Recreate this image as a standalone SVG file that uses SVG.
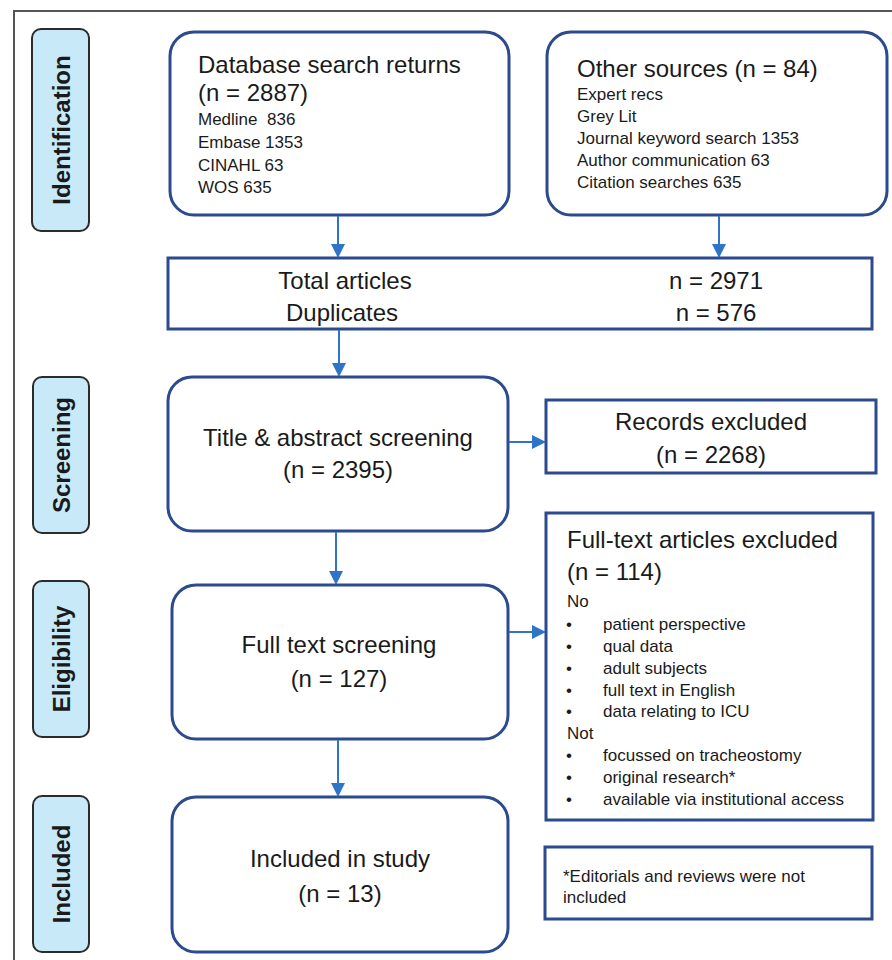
<svg xmlns="http://www.w3.org/2000/svg" width="892" height="960" viewBox="0 0 892 960">
<style>
text{font-family:"Liberation Sans",Arial,sans-serif;fill:#1a1a1a}
.big{font-size:24px}
.sm{font-size:17px}
.lab{font-size:24px;font-weight:bold}
.box{fill:#fff;stroke:#2c4a8e;stroke-width:3}
.side{fill:#c7e9f8;stroke:#2b2b2b;stroke-width:2}
.conn{stroke:#2f74c8;stroke-width:2;fill:none;marker-end:url(#ah)}
</style>
<defs>
<marker id="ah" markerWidth="14" markerHeight="14" refX="13" refY="7" orient="auto" markerUnits="userSpaceOnUse">
<path d="M0,0 L14,7 L0,14 Z" fill="#2f74c8"/>
</marker>
</defs>
<rect x="0" y="0" width="892" height="960" fill="#fff"/>
<path d="M14,960 V11 H892" fill="none" stroke="#555" stroke-width="2"/>

<g id="label-identification"><rect class="side" x="32" y="29" width="57" height="202" rx="9"/><text class="lab" transform="translate(70,130) rotate(-90)" text-anchor="middle">Identification</text></g>
<g id="label-screening"><rect class="side" x="33" y="377" width="56" height="156" rx="9"/><text class="lab" transform="translate(70,455) rotate(-90)" text-anchor="middle">Screening</text></g>
<g id="label-eligibility"><rect class="side" x="33" y="581" width="56" height="156" rx="9"/><text class="lab" transform="translate(70,659) rotate(-90)" text-anchor="middle">Eligibility</text></g>
<g id="label-included"><rect class="side" x="33" y="796" width="56" height="156" rx="9"/><text class="lab" transform="translate(70,874) rotate(-90)" text-anchor="middle">Included</text></g>

<g id="database"><rect class="box" x="170" y="32" width="339" height="183" rx="24"/>
<text class="big" x="198" y="73">Database search returns</text>
<text class="big" x="198" y="101">(n = 2887)</text>
<text class="sm" x="198" y="125" xml:space="preserve">Medline  836</text>
<text class="sm" x="198" y="148">Embase 1353</text>
<text class="sm" x="198" y="171">CINAHL 63</text>
<text class="sm" x="198" y="193">WOS 635</text></g>

<g id="other"><rect class="box" x="547" y="32" width="340" height="183" rx="24"/>
<text class="big" x="577" y="77">Other sources (n = 84)</text>
<text class="sm" x="577" y="100">Expert recs</text>
<text class="sm" x="577" y="122">Grey Lit</text>
<text class="sm" x="577" y="144">Journal keyword search 1353</text>
<text class="sm" x="577" y="166">Author communication 63</text>
<text class="sm" x="577" y="188">Citation searches 635</text></g>

<g id="total"><rect class="box" x="168" y="258" width="704" height="71"/>
<text class="big" x="345" y="289" text-anchor="middle">Total articles</text>
<text class="big" x="342" y="321" text-anchor="middle">Duplicates</text>
<text class="big" x="716" y="289" text-anchor="middle">n = 2971</text>
<text class="big" x="716" y="321" text-anchor="middle">n = 576</text></g>

<g id="title"><rect class="box" x="168" y="377" width="340" height="154" rx="24"/>
<text class="big" x="338" y="446" text-anchor="middle">Title &amp; abstract screening</text>
<text class="big" x="338" y="478" text-anchor="middle">(n = 2395)</text></g>

<g id="records"><rect class="box" x="546" y="400" width="330" height="73"/>
<text class="big" x="711" y="430" text-anchor="middle">Records excluded</text>
<text class="big" x="711" y="463" text-anchor="middle">(n = 2268)</text></g>

<g id="fulltext-excluded"><rect class="box" x="546" y="513" width="327" height="307"/>
<text class="big" x="567" y="548">Full-text articles excluded</text>
<text class="big" x="567" y="580">(n = 114)</text>
<text class="sm" x="567" y="607">No</text>
<text class="sm" x="566" y="630">•</text><text class="sm" x="603" y="630">patient perspective</text>
<text class="sm" x="566" y="652">•</text><text class="sm" x="603" y="652">qual data</text>
<text class="sm" x="566" y="674">•</text><text class="sm" x="603" y="674">adult subjects</text>
<text class="sm" x="566" y="696">•</text><text class="sm" x="603" y="696">full text in English</text>
<text class="sm" x="566" y="717">•</text><text class="sm" x="603" y="717">data relating to ICU</text>
<text class="sm" x="567" y="739">Not</text>
<text class="sm" x="566" y="761">•</text><text class="sm" x="603" y="761">focussed on tracheostomy</text>
<text class="sm" x="566" y="783">•</text><text class="sm" x="603" y="783">original research*</text>
<text class="sm" x="566" y="805">•</text><text class="sm" x="603" y="805">available via institutional access</text></g>

<g id="fulltext-screening"><rect class="box" x="172" y="585" width="336" height="154" rx="24"/>
<text class="big" x="339" y="653" text-anchor="middle">Full text screening</text>
<text class="big" x="339" y="687" text-anchor="middle">(n = 127)</text></g>

<g id="included"><rect class="box" x="172" y="797" width="336" height="155" rx="24"/>
<text class="big" x="340" y="867" text-anchor="middle">Included in study</text>
<text class="big" x="340" y="902" text-anchor="middle">(n = 13)</text></g>

<g id="footnote"><rect class="box" x="545" y="847" width="327" height="72"/>
<text class="sm" x="563" y="882">*Editorials and reviews were not</text>
<text class="sm" x="563" y="903">included</text></g>

<g id="connectors">
<line class="conn" x1="338" y1="216" x2="338" y2="257"/>
<line class="conn" x1="719" y1="216" x2="719" y2="257"/>
<line class="conn" x1="339" y1="330" x2="339" y2="376"/>
<line class="conn" x1="509" y1="442" x2="545" y2="442"/>
<line class="conn" x1="336" y1="532" x2="336" y2="584"/>
<line class="conn" x1="509" y1="632" x2="545" y2="632"/>
<line class="conn" x1="338" y1="740" x2="338" y2="796"/>
</g>
</svg>
